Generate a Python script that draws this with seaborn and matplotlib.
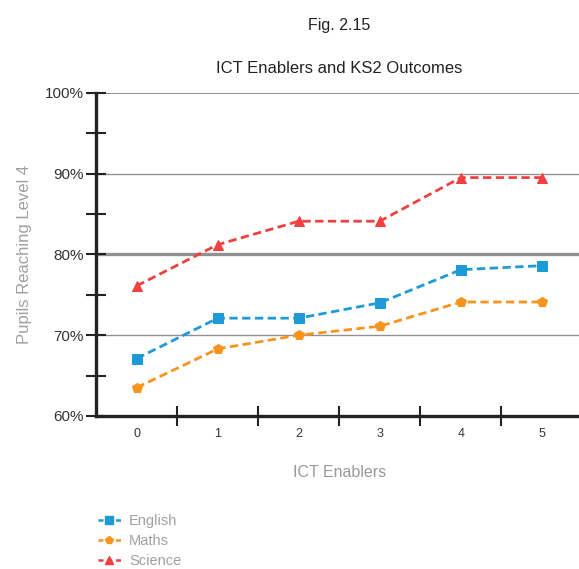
import numpy as np
import pandas as pd
import matplotlib
matplotlib.use("Agg")
import matplotlib.pyplot as plt
import seaborn as sns
from matplotlib.lines import Line2D

enablers = [0, 1, 2, 3, 4, 5]
english = [67.1, 72.1, 72.1, 74.0, 78.1, 78.6]
maths = [63.5, 68.3, 70.0, 71.1, 74.1, 74.1]
science = [76.1, 81.2, 84.1, 84.1, 89.5, 89.5]

sns.set_style("white")
plt.rcParams['font.family'] = ['Liberation Sans', 'DejaVu Sans']

fig = plt.figure(figsize=(5.79, 5.69), dpi=100)
ax = fig.add_axes([0.166, 0.269, 0.84, 0.568])

series = [("English", english, "#1e9ad6", "s"),
          ("Maths", maths, "#f7941d", "p"),
          ("Science", science, "#f0403f", "^")]
for name, vals, col, mk in series:
    sns.lineplot(x=enablers, y=vals, ax=ax, color=col, marker=mk, markersize=7,
                 markeredgecolor=col, linestyle=(0, (3, 1.6)), linewidth=2, label=name)

ax.set_xlim(-0.5, 5.5)
ax.set_ylim(60, 100)
ax.set_yticks([60, 70, 80, 90, 100])
ax.set_yticklabels(["60%", "70%", "80%", "90%", "100%"])
ax.set_yticks([65, 75, 85, 95], minor=True)
ax.set_xticks(enablers)
ax.set_xticks([0.5, 1.5, 2.5, 3.5, 4.5], minor=True)
ax.tick_params(bottom=True, left=True, which="both")
ax.tick_params(axis="x", which="major", length=0, pad=9, labelsize=9, colors="#333333")
ax.tick_params(axis="x", which="minor", direction="inout", length=14, width=1.5, color="#222222")
ax.tick_params(axis="y", which="both", direction="inout", length=14, width=1.5, color="#222222",
               labelsize=11, pad=2)
for lab in ax.get_yticklabels():
    lab.set_color("#333333")

for yv, lw in [(70, 1.0), (80, 2.4), (90, 1.0), (100, 1.4)]:
    ax.axhline(yv, color="#909090", linewidth=lw, zorder=0)

for side in ["top", "right"]:
    ax.spines[side].set_visible(False)
for side in ["left", "bottom"]:
    ax.spines[side].set_linewidth(2.4)
    ax.spines[side].set_color("#222222")

ax.set_xlabel("ICT Enablers", fontsize=11.5, color="#999999", labelpad=18)
ax.set_ylabel("Pupils Reaching Level 4", fontsize=12, color="#a0a0a0", labelpad=9)

fig.text(0.585, 0.955, "Fig. 2.15", ha="center", va="center", fontsize=11.5, color="#222222")
fig.text(0.585, 0.88, "ICT Enablers and KS2 Outcomes", ha="center", va="center",
         fontsize=12, color="#222222")

handles = [Line2D([0], [0], color=c, marker=m, markersize=6, linestyle=(0, (2, 1.5)), linewidth=1.8)
           for _, _, c, m in series]
ax.get_legend().remove()
fig.legend(handles, [s[0] for s in series], loc="upper left", bbox_to_anchor=(0.156, 0.11),
           frameon=False, fontsize=10.5, labelcolor="#a0a0a0", handlelength=1.6,
           handletextpad=0.55, labelspacing=0.42, borderpad=0)

fig.savefig("out.png", dpi=100)
